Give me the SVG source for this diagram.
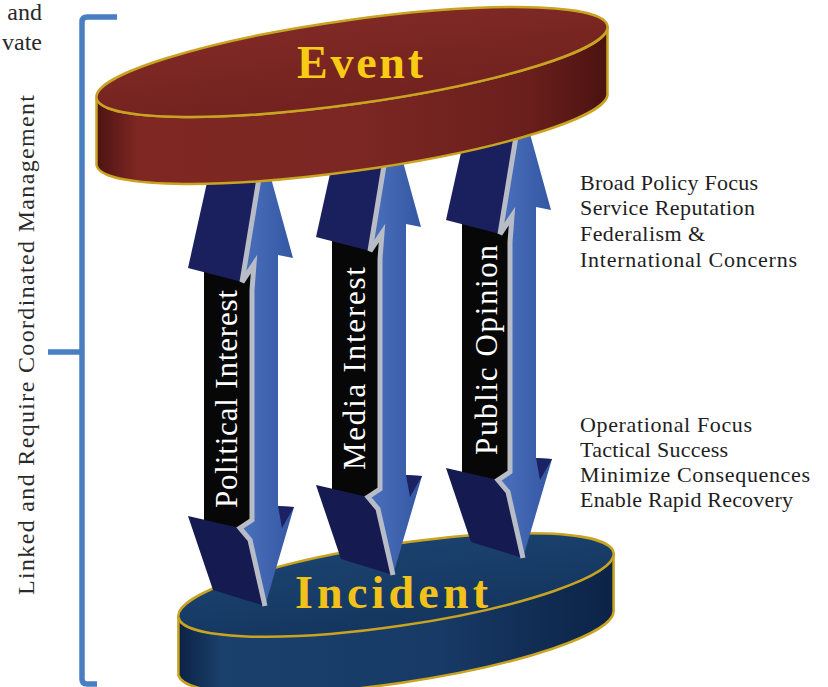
<svg xmlns="http://www.w3.org/2000/svg" width="828" height="687" viewBox="0 0 828 687">
<defs>
<style>
.lbl{font-family:"Liberation Serif","Times New Roman",serif;fill:#1e1e1e;font-size:22px}
.side{font-family:"Liberation Serif","Times New Roman",serif;fill:#2a2a2a}
.arrtxt{font-family:"Liberation Serif","Times New Roman",serif;fill:#ffffff;font-size:31px}
.disktxt{font-family:"Liberation Serif","Times New Roman",serif;font-weight:bold}
.rim{stroke:#c9a322;stroke-width:2.5}
.brk{fill:none;stroke:#4a7ec2;stroke-width:5.5}
</style>
<linearGradient id="evSide" x1="0" y1="0" x2="1" y2="0">
<stop offset="0" stop-color="#4d1311"/>
<stop offset="0.08" stop-color="#7e2723"/>
<stop offset="0.5" stop-color="#7c2723"/>
<stop offset="0.85" stop-color="#6a1f1c"/>
<stop offset="1" stop-color="#4a1210"/>
</linearGradient>
<linearGradient id="evTop" x1="0" y1="0" x2="0" y2="1">
<stop offset="0" stop-color="#7f2925"/>
<stop offset="1" stop-color="#72221f"/>
</linearGradient>
<linearGradient id="inSide" x1="0" y1="0" x2="1" y2="0">
<stop offset="0" stop-color="#0c2244"/>
<stop offset="0.1" stop-color="#1a406c"/>
<stop offset="0.6" stop-color="#173a66"/>
<stop offset="1" stop-color="#0c2346"/>
</linearGradient>
<linearGradient id="inTop" x1="0" y1="0" x2="0" y2="1">
<stop offset="0" stop-color="#1a426e"/>
<stop offset="1" stop-color="#14365f"/>
</linearGradient>
<linearGradient id="blueFace" x1="0" y1="0" x2="1" y2="0">
<stop offset="0" stop-color="#4b71be"/>
<stop offset="1" stop-color="#3457a2"/>
</linearGradient>
<g id="arrowShape">
<rect x="204" y="262" width="48" height="268" fill="#070707"/>
<polygon points="212,160 262,160 242,282 188,268" fill="#1a1f5e"/>
<polygon points="188,516 240,528 250,540 265,606 213,590" fill="#151a50"/>
<path d="M262,160 L266,160 L293,258 L278,255 L278,506 L294,507 L265,606 L250,540 L240,528 L252,520 L252,290 L254,264 L242,282 Z" fill="url(#blueFace)"/>
<polygon points="278,506 294,507 282,528" fill="#1b2262"/>
<polyline points="262,160 242,282 254,264 252,290 252,520 240,528 250,540 265,606" fill="none" stroke="#b8bcc6" stroke-width="5"/>
</g>
</defs>

<g id="bracket">
<path class="brk" d="M117,17 L87,17 Q82,17 82,22 L82,679 Q82,684 87,684 L97,684"/>
<path class="brk" d="M48,352 L82,352"/>
<text class="side" font-size="24" x="42" y="20" text-anchor="end">and</text>
<text class="side" font-size="24" x="42" y="50" text-anchor="end">vate</text>
<text class="side" font-size="24" transform="translate(34,595) rotate(-90)" textLength="500" lengthAdjust="spacing">Linked and  Require Coordinated Management</text>
</g>

<g id="event-notes">
<text class="lbl" x="580" y="190" textLength="178" lengthAdjust="spacing">Broad Policy Focus</text>
<text class="lbl" x="580" y="215" textLength="175" lengthAdjust="spacing">Service Reputation</text>
<text class="lbl" x="580" y="241" textLength="125" lengthAdjust="spacing">Federalism &amp;</text>
<text class="lbl" x="580" y="267" textLength="217" lengthAdjust="spacing">International Concerns</text>
</g>
<g id="incident-notes">
<text class="lbl" x="580" y="432" textLength="172" lengthAdjust="spacing">Operational Focus</text>
<text class="lbl" x="580" y="457" textLength="148" lengthAdjust="spacing">Tactical Success</text>
<text class="lbl" x="580" y="482" textLength="230" lengthAdjust="spacing">Minimize Consequences</text>
<text class="lbl" x="580" y="507" textLength="213" lengthAdjust="spacing">Enable Rapid Recovery</text>
</g>

<g id="incident">
<path class="rim" fill="url(#inSide)" d="M178.4,617.1 L178.4,675.1 A220,41 -8.4 0 0 613.6,610.9 L613.6,552.9 A220,41 -8.4 0 1 178.4,617.1 Z"/>
<ellipse class="rim" cx="396" cy="585" rx="220" ry="41" transform="rotate(-8.4 396 585)" fill="url(#inTop)"/>
</g>

<g id="connectors">
<g id="arrow-political">
<use href="#arrowShape"/>
<text class="arrtxt" transform="translate(237,508) rotate(-90)" textLength="218" lengthAdjust="spacing">Political Interest</text>
</g>
<g id="arrow-media">
<use href="#arrowShape" transform="translate(128,-31)"/>
<text class="arrtxt" transform="translate(365,470) rotate(-90)" textLength="203" lengthAdjust="spacing">Media Interest</text>
</g>
<g id="arrow-public">
<use href="#arrowShape" transform="translate(258,-48)"/>
<text class="arrtxt" transform="translate(497,455) rotate(-90)" textLength="210" lengthAdjust="spacing">Public Opinion</text>
</g>
</g>

<g id="incident-label">
<text class="disktxt" x="295" y="608" font-size="46" fill="#f2c21a" textLength="193" lengthAdjust="spacing">Incident</text>
</g>

<g id="event">
<path class="rim" fill="url(#evSide)" d="M96.5,97.9 L96.5,164.9 A258,42 -8 0 0 607.5,93.1 L607.5,26.1 A258,42 -8 0 1 96.5,97.9 Z"/>
<ellipse class="rim" cx="352" cy="62" rx="258" ry="42" transform="rotate(-8 352 62)" fill="url(#evTop)"/>
<text class="disktxt" x="297" y="78" font-size="46" fill="#f9cc14" textLength="126" lengthAdjust="spacing">Event</text>
</g>
</svg>
